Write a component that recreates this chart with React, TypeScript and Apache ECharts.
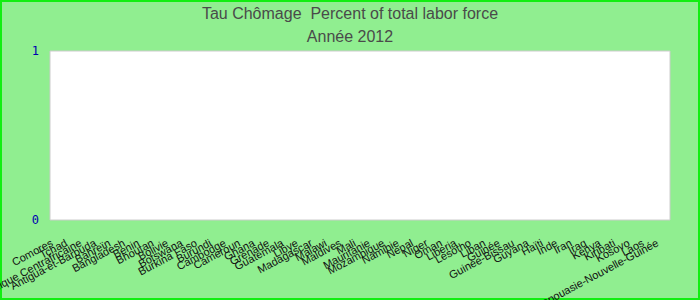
import React, { useEffect, useRef } from "react";
import * as echarts from "echarts";

const titleText = "Tau Chômage  Percent of total labor force";
const subtitleText = "Année 2012";

const categories = [
  "Comores", "Tchad", "République Centrafricaine", "Antigua-et-Barbuda", "Bahreïn",
  "Bangladesh", "Benin", "Bhoutan", "Bolivie", "Botswana", "Burkina Faso", "Burundi",
  "Cambodge", "Cameroun", "Ghana", "Grenade", "Guatemala", "Libye", "Madagascar",
  "Malawi", "Maldives", "Mali", "Mauritanie", "Mozambique", "Namibie", "Nepal",
  "Niger", "Oman", "Liberia", "Lesotho", "Liban", "Guinée", "Guinée-Bissau", "Guyana",
  "Haïti", "Inde", "Iran", "Iraq", "Kenya", "Kiribati", "Kosovo", "Laos",
  "Papouasie-Nouvelle-Guinée",
];

// No values are shown for 2012: every category is empty.
const values: (number | null)[] = [
  null, null, null, null, null, null, null, null, null, null, null, null, null, null, null,
  null, null, null, null, null, null, null, null, null, null, null, null, null, null, null,
  null, null, null, null, null, null, null, null, null, null, null, null, null,
];

const yMin = 0;
const yMax = 1;
const yInterval = 1;

export default function App() {
  const ref = useRef<HTMLDivElement>(null);
  useEffect(() => {
    document.body.style.margin = "0";
    if (!ref.current) return;
    const chart = echarts.init(ref.current, null, { renderer: "svg" });
    chart.setOption({
      animation: false,
      backgroundColor: "#90ee90",
      title: [
        {
          text: titleText,
          left: "center",
          top: 0,
          textStyle: { fontFamily: "Liberation Sans, Arial", fontSize: 16, fontWeight: "normal", color: "#4a4a4a" },
        },
        {
          text: subtitleText,
          left: "center",
          top: 23,
          textStyle: { fontFamily: "Liberation Sans, Arial", fontSize: 16, fontWeight: "normal", color: "#4a4a4a" },
        },
      ],
      graphic: [
        {
          type: "rect",
          shape: { x: 1, y: 1, width: 698, height: 298 },
          style: { fill: "none", stroke: "#11ee11", lineWidth: 2 },
          silent: true,
        },
      ],
      grid: {
        left: 50,
        right: 30,
        top: 51,
        bottom: 80,
        containLabel: false,
        outerBoundsMode: "none",
        show: true,
        backgroundColor: "#ffffff",
        borderColor: "#cccccc",
        borderWidth: 1,
      },
      xAxis: {
        type: "category",
        data: categories,
        axisLine: { show: false },
        axisTick: { show: false },
        splitLine: { show: false },
        axisLabel: {
          interval: 0,
          rotate: 28,
          margin: 19,
          padding: [0, 6, 0, 0],
          hideOverlap: false,
          fontFamily: "Liberation Sans, Arial",
          fontSize: 11,
          color: "#111111",
        },
      },
      yAxis: {
        type: "value",
        min: yMin,
        max: yMax,
        interval: yInterval,
        axisLine: { show: false },
        axisTick: { show: false },
        splitLine: { show: false },
        axisLabel: {
          margin: 11,
          fontFamily: "DejaVu Sans Mono, Liberation Mono, monospace",
          fontSize: 12,
          color: "#0000b0",
        },
      },
      series: [
        {
          type: "bar",
          data: values,
          itemStyle: { color: "#3366cc" },
        },
      ],
    });
    return () => chart.dispose();
  }, []);
  return <div ref={ref} style={{ width: 700, height: 300 }} />;
}
